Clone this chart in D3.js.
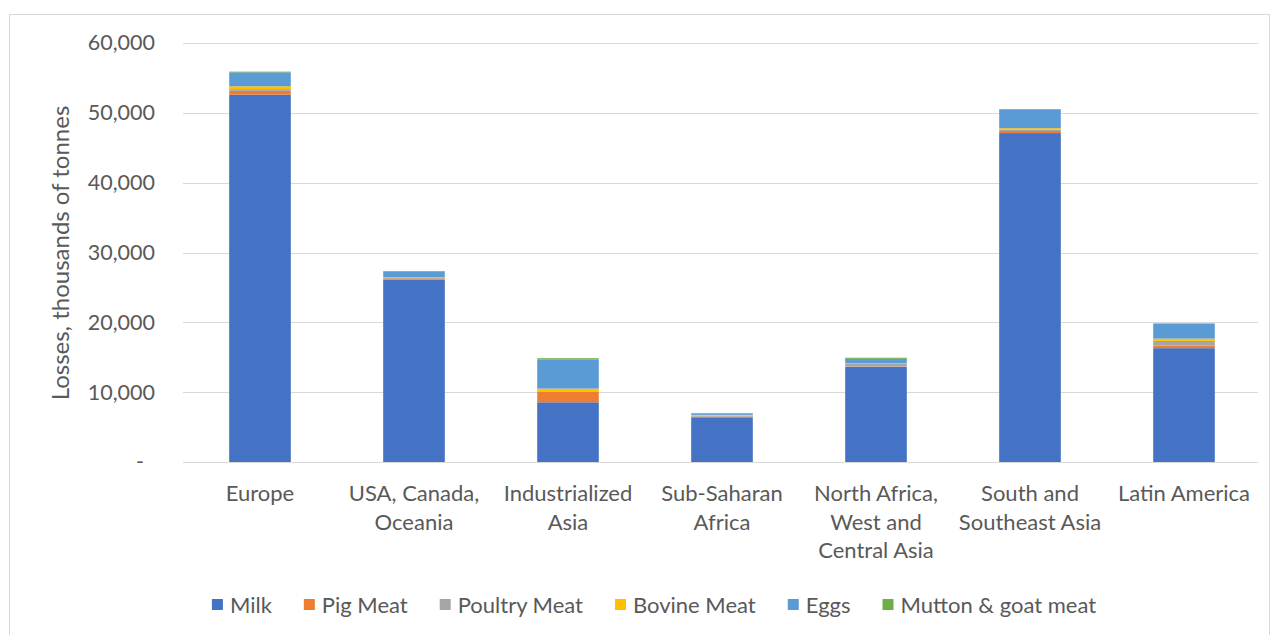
<!DOCTYPE html>
<html><head><meta charset="utf-8">
<script src="https://cdn.jsdelivr.net/npm/d3@7"></script>
<style>body{margin:0;background:#fff}svg{display:block}text{font-family:Lato,"Open Sans",sans-serif;fill:#595959}</style>
</head><body><svg id="c" width="1278" height="635"></svg>
<script>
const categories = ["Europe", "USA, Canada, Oceania", "Industrialized Asia", "Sub-Saharan Africa", "North Africa, West and Central Asia", "South and Southeast Asia", "Latin America"];
const categoryLines = [["Europe"], ["USA, Canada,", "Oceania"], ["Industrialized", "Asia"], ["Sub-Saharan", "Africa"], ["North Africa,", "West and", "Central Asia"], ["South and", "Southeast Asia"], ["Latin America"]];
const seriesNames = ["Milk", "Pig Meat", "Poultry Meat", "Bovine Meat", "Eggs", "Mutton & goat meat"];
const milk    = [52600, 26100, 8550, 6400, 13600, 47100, 16300];
const pigMeat = [550, 200, 1480, 100, 50, 300, 370];
const poultry = [250, 100, 100, 150, 430, 200, 670];
const bovine  = [400, 50, 380, 100, 50, 200, 330];
const eggs    = [2000, 800, 4150, 150, 650, 2700, 2100];
const mutton  = [100, 100, 200, 100, 150, 50, 80];
const yTicks = [0, 10000, 20000, 30000, 40000, 50000, 60000];
const colors = ["#4472C4", "#ED7D31", "#A5A5A5", "#FFC000", "#5B9BD5", "#70AD47"];

const seriesValues = [milk, pigMeat, poultry, bovine, eggs, mutton];
const rows = categories.map((c, i) => {
  const r = {cat: c};
  seriesNames.forEach((s, j) => r[s] = seriesValues[j][i]);
  return r;
});
const stacked = d3.stack().keys(seriesNames)(rows);

const svg = d3.select("#c");
svg.append("rect").attr("x", 9.5).attr("y", 14.5).attr("width", 1260).attr("height", 640)
  .attr("fill", "none").attr("stroke", "#d9d9d9");

const x = d3.scaleBand().domain(categories).range([183, 1261]).paddingInner(0.6).paddingOuter(0.3);
const y = d3.scaleLinear().domain([0, 60000]).range([462, 43]);

// gridlines
svg.append("g").selectAll("line").data(yTicks).join("line")
  .attr("x1", 183).attr("x2", 1258)
  .attr("y1", d => Math.round(y(d)) + 0.5).attr("y2", d => Math.round(y(d)) + 0.5)
  .attr("stroke", "#d9d9d9").attr("stroke-width", 1);

// y axis labels
const fmt = d3.format(",");
const yAxis = d3.axisLeft(y).tickValues(yTicks).tickSize(0).tickPadding(0)
  .tickFormat(d => d === 0 ? "-" : fmt(d));
const yg = svg.append("g").attr("transform", "translate(155,0)").call(yAxis);
yg.select(".domain").remove();
yg.selectAll("text").style("font-size", "21.5px").attr("fill", "#595959").attr("font-family", "Lato")
  .attr("dx", d => d === 0 ? "-11px" : 0);

// bars
svg.append("g").selectAll("g").data(stacked).join("g")
  .attr("fill", (d, i) => colors[i])
  .selectAll("rect").data(d => d).join("rect")
  .attr("x", d => x(d.data.cat)).attr("width", x.bandwidth())
  .attr("y", d => y(d[1])).attr("height", d => y(d[0]) - y(d[1]));

// x labels
const xg = svg.append("g");
categories.forEach((c, i) => {
  const t = xg.append("text").attr("text-anchor", "middle").style("font-size", "22px")
    .attr("x", x(c) + x.bandwidth() / 2).attr("y", 501);
  categoryLines[i].forEach((ln, k) => t.append("tspan").attr("x", x(c) + x.bandwidth() / 2).attr("dy", k === 0 ? 0 : 28.5).text(ln));
});

// y title
svg.append("text").attr("transform", "translate(69,253) rotate(-90)").attr("text-anchor", "middle")
  .style("font-size", "24px").text("Losses, thousands of tonnes");

// legend
const lg = svg.append("g");
let lx = 0;
seriesNames.forEach((s, i) => {
  const g = lg.append("g").attr("transform", `translate(${lx},0)`);
  g.append("rect").attr("x", 0).attr("y", -6).attr("width", 11).attr("height", 11).attr("fill", colors[i]);
  const t = g.append("text").attr("x", 18).attr("y", 0).attr("dy", "0.35em").style("font-size", "22px").text(s);
  const w = t.node().getComputedTextLength();
  lx += 18 + w + 32;
});
const totalW = lx - 32;
lg.attr("transform", `translate(${654 - totalW / 2},605)`);
</script></body></html>
